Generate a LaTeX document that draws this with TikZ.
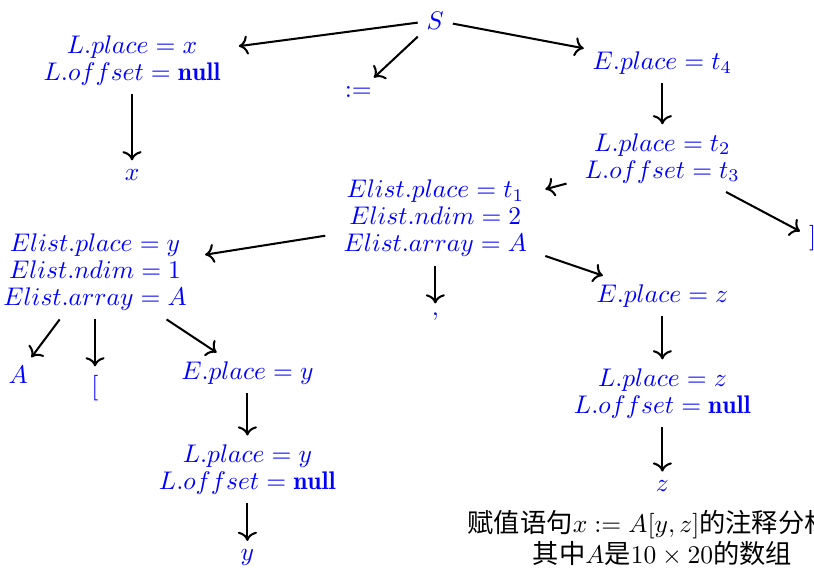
\documentclass[tikz,border=0pt]{standalone}
\usepackage{amsmath}
\usepackage{fontspec}
\newfontfamily\cjk{Noto Sans CJK SC}
\usetikzlibrary{arrows.meta, positioning}

\begin{document}
\begin{tikzpicture}[
    attr/.style={text=blue, align=center, inner xsep=7pt,
                 font=\fontsize{10}{10.6}\selectfont},
    leaf/.style={text=blue},
    edge/.style={-{To[length=3.6pt,width=7.5pt]}, thick}]
  \useasboundingbox (0,0) rectangle (11.22,-7.86);

  % ---------- raiz e primeiro nível ----------
  \node[leaf] (S) at (6.00,-0.28) {$S$};
  \node[attr] (Lx) at (1.82,-0.83) {$L.place = x$\\ $L.offset = \mathbf{null}$};
  \node[leaf] (assign) at (4.94,-1.27) {$:=$};
  \node[attr,inner xsep=3.3pt] (Et4) at (9.13,-0.87) {$E.place = t_4$};

  \node[leaf] (xleaf) at (1.82,-2.41) {$x$};
  \node[attr] (Lt2) at (9.13,-2.18) {$L.place = t_2$\\ $L.offset = t_3$};

  % ---------- Elist ----------
  \node[attr] (elistA) at (6.00,-3.01)
    {$Elist.place = t_1$\\ $Elist.ndim = 2$\\ $Elist.array = A$};
  \node[leaf] (rbrack) at (11.20,-3.28) {$]$};
  \node[attr] (elistB) at (1.31,-3.75)
    {$Elist.place = y$\\ $Elist.ndim = 1$\\ $Elist.array = A$};
  \node[leaf] (comma) at (6.00,-4.36) {$,$};
  \node[attr,inner xsep=3.3pt] (Ez) at (9.13,-4.08) {$E.place = z$};

  \node[leaf] (Aleaf) at (0.25,-5.17) {$A$};
  \node[leaf] (lbrack) at (1.31,-5.35) {$[$};
  \node[attr,inner xsep=3.3pt] (Ey) at (3.41,-5.14) {$E.place = y$};
  \node[attr] (Lz) at (9.13,-5.42) {$L.place = z$\\ $L.offset = \mathbf{null}$};
  \node[attr] (Ly) at (3.41,-6.47) {$L.place = y$\\ $L.offset = \mathbf{null}$};
  \node[leaf] (zleaf) at (9.13,-6.70) {$z$};
  \node[leaf] (yleaf) at (3.41,-7.69) {$y$};

  % legenda (sai cortada na borda direita, como no original)
  \node[align=center, font=\fontsize{10.3}{11}\selectfont] (caption) at (9.13,-7.41)
    {\cjk 赋值语句$x := A[y,z]$的注释分析树\\ \cjk 其中$A$是$10\times20$的数组};

  % ---------- arestas ----------
  \draw[edge] (S) -- (Lx);
  \draw[edge] (S) -- (assign);
  \draw[edge] (S) -- (Et4);
  \draw[edge] (Lx) -- (xleaf);
  \draw[edge] (Et4) -- (Lt2);
  \draw[edge] (Lt2) -- (elistA);
  \draw[edge] (Lt2) -- (rbrack);
  \draw[edge] (elistA) -- (elistB);
  \draw[edge] (elistA) -- (comma);
  \draw[edge] (elistA) -- (Ez);
  \draw[edge] (elistB) -- (Aleaf);
  \draw[edge] (elistB) -- (lbrack);
  \draw[edge] (elistB) -- (Ey);
  \draw[edge] (Ey) -- (Ly);
  \draw[edge] (Ly) -- (yleaf);
  \draw[edge] (Ez) -- (Lz);
  \draw[edge] (Lz) -- (zleaf);
\end{tikzpicture}
\end{document}
